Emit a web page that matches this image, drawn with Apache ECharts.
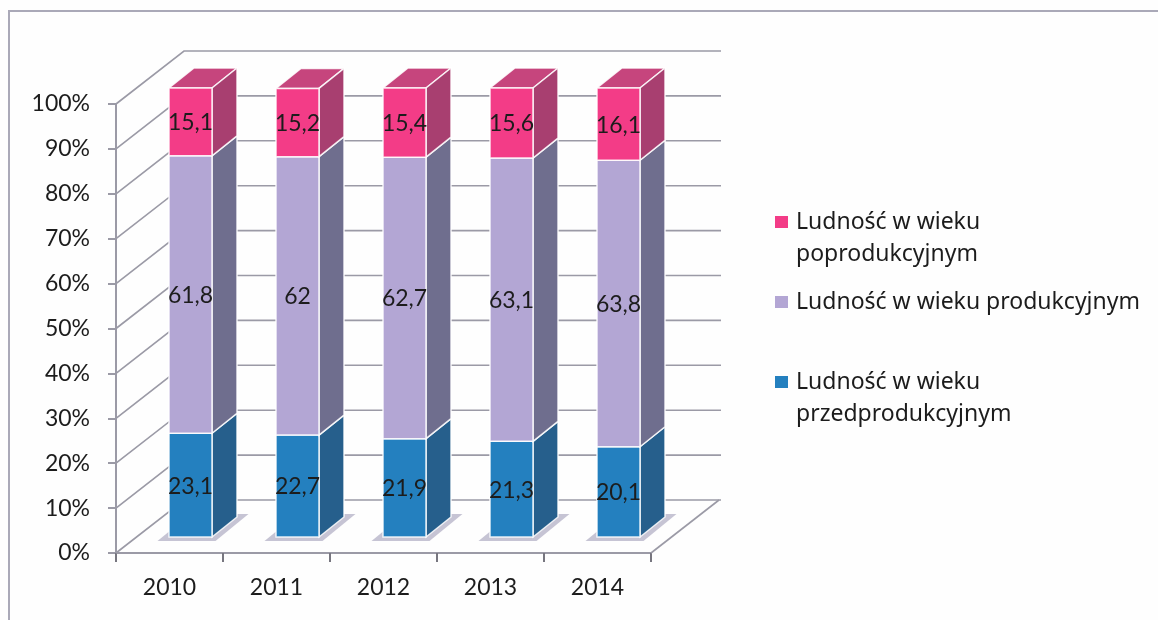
<!DOCTYPE html>
<html>
<head>
<meta charset="utf-8">
<style>
html, body { margin: 0; padding: 0; background: #fff; }
#chart { width: 1158px; height: 620px; }
</style>
<script src="https://cdn.jsdelivr.net/npm/echarts@6/dist/echarts.min.js"></script>
</head>
<body>
<div id="chart"></div>
<script>
var categories = ['2010', '2011', '2012', '2013', '2014'];
var przed = [23.1, 22.7, 21.9, 21.3, 20.1];
var prod = [61.8, 62, 62.7, 63.1, 63.8];
var poprod = [15.1, 15.2, 15.4, 15.6, 16.1];
var yTicks = [0, 10, 20, 30, 40, 50, 60, 70, 80, 90, 100];

var namePrzed = 'Ludność w wieku przedprodukcyjnym';
var nameProd = 'Ludność w wieku produkcyjnym';
var namePoprod = 'Ludność w wieku poprodukcyjnym';

// perspective of the box, in px
var depthX = 68, depthY = 53;
var barW = 43;
var barShiftX = 21, barShiftY = 16;
var sideX = 25, sideY = 20;
var wallColor = '#9b9aa6';
var fontName = 'Lato';

// stacks a column on top of the ones below it: [index, from, to, value]
function stackRows(values, below) {
  return values.map(function (v, i) {
    var base = 0;
    below.forEach(function (b) { base += b[i]; });
    return [i, base, base + v, v];
  });
}

function barSeries(name, rows, front, side, top) {
  return {
    type: 'custom',
    name: name,
    z: 3,
    silent: true,
    itemStyle: { color: front },
    data: rows,
    renderItem: function (params, api) {
      var low = api.coord([api.value(0), api.value(1)]);
      var high = api.coord([api.value(0), api.value(2)]);
      var l = low[0] - barW / 2 + barShiftX;
      var r = l + barW;
      var yb = low[1] - barShiftY;
      var yt = high[1] - barShiftY;
      var edge = { stroke: 'rgba(255,255,255,0.85)', lineWidth: 1.5 };
      var kids = [];
      if (top) {
        kids.push({
          type: 'polygon',
          shape: { points: [[l, yt], [l + sideX, yt - sideY], [r + sideX, yt - sideY], [r, yt]] },
          style: Object.assign({ fill: top }, edge)
        });
      }
      kids.push({
        type: 'polygon',
        shape: { points: [[r, yt], [r + sideX, yt - sideY], [r + sideX, yb - sideY], [r, yb]] },
        style: Object.assign({ fill: side }, edge)
      });
      kids.push({
        type: 'rect',
        shape: { x: l, y: yt, width: barW, height: yb - yt },
        style: Object.assign({ fill: front }, edge)
      });
      kids.push({
        type: 'text',
        z2: 10,
        style: {
          x: l + barW / 2,
          y: (yt + yb) / 2 + 1,
          text: String(api.value(3)).replace('.', ','),
          align: 'center',
          verticalAlign: 'middle',
          fill: '#1c1c1c',
          font: '23px ' + fontName
        }
      });
      return { type: 'group', children: kids };
    }
  };
}

function legendFor(name, top) {
  return {
    data: [{ name: name, icon: 'rect' }],
    orient: 'vertical',
    left: 775,
    top: top,
    padding: 0,
    itemWidth: 13,
    itemHeight: 12,
    selectedMode: false,
    formatter: function (n) {
      if (n === nameProd) return n;
      // blank first line keeps the marker level with the first text line
      return '\nLudność w wieku\n' + n.replace('Ludność w wieku ', '');
    },
    textStyle: {
      fontFamily: 'Noto Sans',
      fontSize: 23,
      color: '#1c1c1c',
      lineHeight: 32,
      padding: [0, 0, 0, 3]
    }
  };
}

var chart = echarts.init(document.getElementById('chart'));

var option = {
  animation: false,
  backgroundColor: '#fefefe',
  grid: { left: 116, top: 104, width: 535, height: 449 },
  legend: [
    legendFor(namePoprod, 174),
    legendFor(nameProd, 286),
    legendFor(namePrzed, 334)
  ],
  graphic: [
    // outer frame of the scanned chart
    {
      type: 'polyline',
      shape: { points: [[9, 620], [9, 11], [1158, 11]] },
      style: { stroke: '#aaa9b8', lineWidth: 2, fill: null }
    }
  ],
  xAxis: {
    type: 'category',
    data: categories,
    axisLine: { lineStyle: { color: wallColor, width: 2 } },
    axisTick: { show: true, length: 9, lineStyle: { color: '#77767f', width: 2 } },
    axisLabel: { margin: 23, fontFamily: fontName, fontSize: 23, color: '#1c1c1c' }
  },
  yAxis: {
    type: 'value',
    min: 0,
    max: 100,
    interval: 10,
    splitLine: { show: false },
    axisLine: { show: true, lineStyle: { color: wallColor, width: 2 } },
    axisTick: { show: true, length: 8, lineStyle: { color: wallColor, width: 2 } },
    axisLabel: { margin: 26, formatter: '{value}%', fontFamily: fontName, fontSize: 23, color: '#1c1c1c' }
  },
  series: [
    // walls and floor of the box
    {
      type: 'custom',
      silent: true,
      z: 1,
      data: yTicks.map(function (t) { return [0, t]; }),
      renderItem: function (params, api) {
        var tick = api.value(1);
        var y = api.coord([0, tick])[1];
        var x0 = params.coordSys.x;
        var x1 = x0 + params.coordSys.width;
        var line = { stroke: wallColor, lineWidth: 1.6, fill: null };
        var kids = [
          { type: 'polyline', shape: { points: [[x0, y], [x0 + depthX, y - depthY], [x1 + depthX + 2, y - depthY]] }, style: line }
        ];
        if (tick === 0) {
          kids.push({ type: 'line', shape: { x1: x1, y1: y, x2: x1 + depthX, y2: y - depthY }, style: line });
        }
        return { type: 'group', children: kids };
      }
    },
    // floor shadows under the bars
    {
      type: 'custom',
      silent: true,
      z: 2,
      data: categories.map(function (c, i) { return [i, 0]; }),
      renderItem: function (params, api) {
        var p = api.coord([api.value(0), 0]);
        var l = p[0] - 12, y = p[1] - 12;
        return {
          type: 'polygon',
          shape: { points: [[l, y], [l + 58, y], [l + 91, y - 27], [l + 33, y - 27]] },
          style: { fill: '#c6c4d4' }
        };
      }
    },
    barSeries(namePrzed, stackRows(przed, []), '#2480bf', '#265f8c'),
    barSeries(nameProd, stackRows(prod, [przed]), '#b3a6d4', '#6f6e8e'),
    barSeries(namePoprod, stackRows(poprod, [przed, prod]), '#f33c87', '#a83f70', '#c6457d')
  ]
};
chart.setOption(option);
window.addEventListener('resize', function () { chart.resize(); });
</script>
</body>
</html>
